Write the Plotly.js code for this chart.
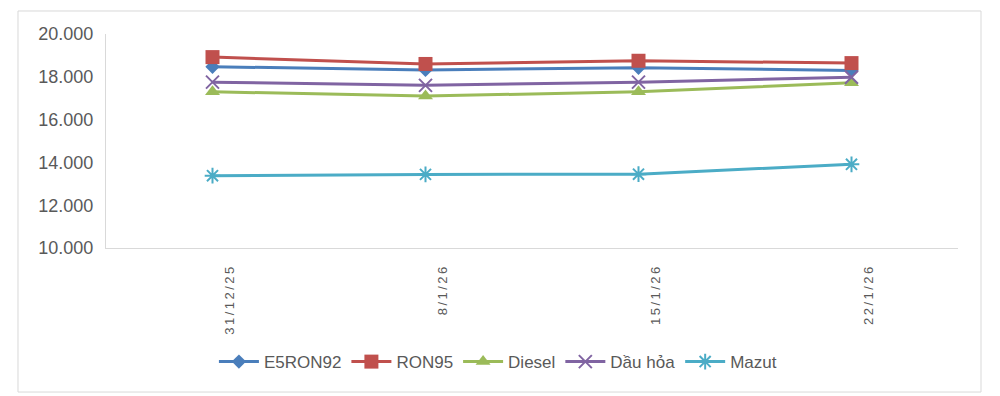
<!DOCTYPE html>
<html>
<head>
<meta charset="utf-8">
<script src="https://cdn.plot.ly/plotly-3.0.1.min.js"></script>
<style>html,body{margin:0;padding:0;background:#fff;}#chart{width:1000px;height:396px;}
.xtick text{letter-spacing:2.5px;}</style>
</head>
<body>
<div id="chart"></div>
<script>
const categories = ["31/12/25", "8/1/26", "15/1/26", "22/1/26"];
const e5ron92 = [18470, 18320, 18420, 18300];
const ron95 = [18920, 18600, 18750, 18640];
const diesel = [17300, 17100, 17300, 17720];
const dauHoa = [17750, 17600, 17750, 17980];
const mazut = [13380, 13440, 13450, 13910];
const seriesNames = ["E5RON92", "RON95", "Diesel", "Dầu hỏa", "Mazut"];
const yTicks = [10000, 12000, 14000, 16000, 18000, 20000];

const colors = ["#4A7EBB", "#C0504D", "#9BBB59", "#8064A2", "#4BACC6"];
const symbols = ["diamond", "square", "triangle-up", "x-thin-open", "asterisk-open"];
const sizes = [11, 14, 13, 13, 13];
const data = [e5ron92, ron95, diesel, dauHoa, mazut].map((vals, i) => ({
  type: "scatter",
  mode: "lines+markers",
  name: seriesNames[i],
  x: categories,
  y: vals,
  line: {color: colors[i], width: 3},
  marker: {symbol: symbols[i], size: sizes[i], color: colors[i], line: {color: colors[i], width: (i >= 3 ? 2 : 0)}}
}));

const layout = {
  width: 1000, height: 396,
  margin: {l: 106, r: 42, t: 34, b: 148},
  paper_bgcolor: "#fff", plot_bgcolor: "#fff",
  separators: ",.",
  font: {family: "Liberation Sans, Arial, sans-serif", color: "#595959", size: 15},
  showlegend: true,
  legend: {orientation: "h", x: 0.46, xanchor: "center", y: -0.533, yanchor: "middle",
           font: {size: 17, color: "#595959"}, itemwidth: 40, tracegroupgap: 0},
  xaxis: {type: "category", range: [-0.5, 3.5], showgrid: false, zeroline: false,
          showline: true, linecolor: "#d9d9d9", linewidth: 1, ticks: "",
          tickangle: -90, tickfont: {size: 13, color: "#595959"}, ticklabelstandoff: 10},
  yaxis: {range: [10000, 20000], tickvals: yTicks, tickformat: ",.0f", showgrid: false,
          zeroline: false, showline: true, linecolor: "#d9d9d9", linewidth: 1, ticks: "",
          tickfont: {size: 18, color: "#595959"}, ticklabelstandoff: 8},
  shapes: [{type: "rect", xref: "paper", yref: "paper", x0: -0.1033, x1: 1.027, y0: -0.673, y1: 1.1075,
            line: {color: "#d9d9d9", width: 1}, fillcolor: "rgba(0,0,0,0)", layer: "below"}]
};
Plotly.newPlot("chart", data, layout, {staticPlot: true}).then(gd => {
  gd.querySelectorAll("g.xaxislayer-above").forEach(g => {
    const t = g.getAttribute("transform") || "";
    g.setAttribute("transform", t + " translate(17,0)");
  });
});
</script>
</body>
</html>
